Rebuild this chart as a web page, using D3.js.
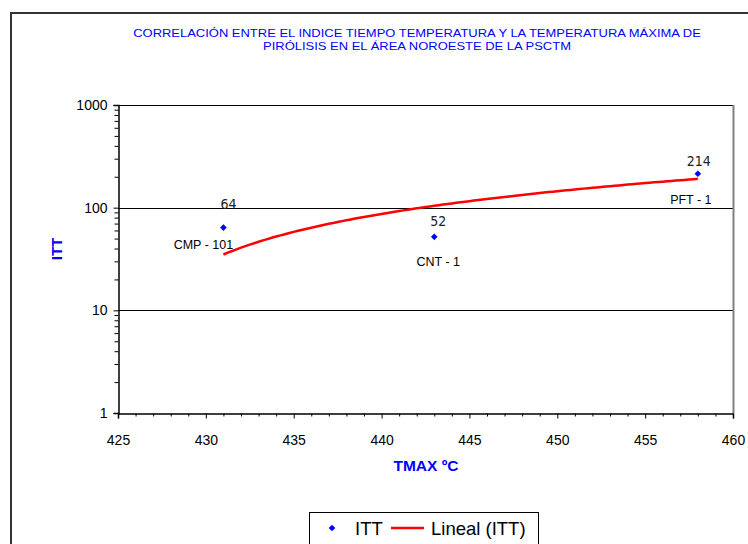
<!DOCTYPE html>
<html>
<head>
<meta charset="utf-8">
<script src="https://cdn.jsdelivr.net/npm/d3@7"></script>
<style>
  body { margin: 0; background: #fff; }
  svg { display: block; font-family: Arial, "Liberation Sans", sans-serif; }
</style>
</head>
<body>
<svg width="748" height="544"></svg>
<script>
const wells = ["CMP - 101", "CNT - 1", "PFT - 1"];
const tmax = [431, 443, 458];
const itt = [64, 52, 214];
const xTicks = [425, 430, 435, 440, 445, 450, 455, 460];
const yTicks = [1, 10, 100, 1000];

const svg = d3.select('svg');
const blue = "#0000ff";
const plotLeft = 118, plotRight = 733, plotTop = 105, plotBottom = 413;

const xScale = d3.scaleLinear().domain([425, 460]).range([plotLeft, plotRight]);
const yScale = d3.scaleLog().domain([1, 1000]).range([plotBottom, plotTop]);

// chart frame (cut by the window on right and bottom)
svg.append('path')
  .attr('d', 'M11,560 L11,13 L760,13')
  .attr('fill', 'none')
  .attr('stroke', '#333')
  .attr('stroke-width', 2);

// title (the original text is a little stretched sideways)
const title = svg.append('text')
  .attr('transform', 'translate(417,0) scale(1.18,1)')
  .attr('text-anchor', 'middle')
  .attr('fill', blue)
  .style('font-size', '11px');
title.append('tspan').attr('x', 0).attr('y', 37)
  .text("CORRELACIÓN ENTRE EL INDICE TIEMPO TEMPERATURA Y LA TEMPERATURA MÁXIMA DE");
title.append('tspan').attr('x', 0).attr('y', 50)
  .text("PIRÓLISIS EN EL ÁREA NOROESTE DE LA PSCTM");

// gridlines
svg.append('g')
  .selectAll('line')
  .data(yTicks.slice(1))
  .enter()
  .append('line')
  .attr('x1', plotLeft).attr('x2', plotRight)
  .attr('y1', d => Math.round(yScale(d)) + 0.5)
  .attr('y2', d => Math.round(yScale(d)) + 0.5)
  .attr('stroke', '#000')
  .attr('stroke-width', 1);

// plot right border
svg.append('line')
  .attr('x1', plotRight + 0.5).attr('x2', plotRight + 0.5)
  .attr('y1', plotTop).attr('y2', plotBottom)
  .attr('stroke', '#808080')
  .attr('stroke-width', 2);

// y axis with log minor ticks
const minorY = [];
for (let e = 0; e < 3; e++) for (let k = 2; k <= 9; k++) minorY.push(k * Math.pow(10, e));

const yAxis = d3.axisLeft(yScale).tickValues(yTicks).tickFormat(d3.format("d")).tickSize(5).tickPadding(6);
const yAxisMinor = d3.axisLeft(yScale).tickValues(minorY).tickFormat("").tickSize(4);

svg.append('g')
  .attr('transform', 'translate(' + (plotLeft + 0.5) + ',0)')
  .call(yAxisMinor)
  .call(g => g.select('.domain').remove());

svg.append('g')
  .attr('id', 'y-axis')
  .attr('transform', 'translate(' + (plotLeft + 0.5) + ',0)')
  .call(yAxis)
  .call(g => g.select('.domain').attr('stroke-width', 1.5))
  .selectAll('text')
  .style('font-size', '14px')
  .attr('fill', '#000');

// x axis
const minorX = d3.range(425, 461, 1).filter(d => d % 5 !== 0);
const xAxis = d3.axisBottom(xScale).tickValues(xTicks).tickFormat(d3.format("d")).tickSize(5).tickPadding(17);
const xAxisMinor = d3.axisBottom(xScale).tickValues(minorX).tickFormat("").tickSize(3);

svg.append('g')
  .attr('transform', 'translate(0,' + (plotBottom + 0.5) + ')')
  .call(xAxisMinor)
  .call(g => g.select('.domain').remove());

svg.append('g')
  .attr('id', 'x-axis')
  .attr('transform', 'translate(0,' + (plotBottom + 0.5) + ')')
  .call(xAxis)
  .call(g => g.select('.domain').attr('stroke-width', 1.5))
  .selectAll('text')
  .style('font-size', '14px')
  .attr('fill', '#000');

// axis titles
svg.append('text')
  .attr('x', 426).attr('y', 471)
  .attr('text-anchor', 'middle')
  .attr('fill', blue)
  .style('font-size', '15.5px')
  .style('font-weight', 'bold')
  .text("TMAX ºC");

svg.append('text')
  .attr('transform', 'translate(62,249) rotate(-90)')
  .attr('text-anchor', 'middle')
  .attr('fill', blue)
  .style('font-size', '15px')
  .style('font-weight', 'bold')
  .text("ITT");

// linear trendline (least squares on ITT vs TMAX)
const mx = d3.mean(tmax), my = d3.mean(itt);
const slope = d3.sum(tmax, (x, i) => (x - mx) * (itt[i] - my)) / d3.sum(tmax, x => (x - mx) * (x - mx));
const intercept = my - slope * mx;
const trendX = d3.range(d3.min(tmax), d3.max(tmax) + 0.001, 0.25);

svg.append('path')
  .datum(trendX)
  .attr('fill', 'none')
  .attr('stroke', '#ff0000')
  .attr('stroke-width', 2.5)
  .attr('d', d3.line()
    .x(d => xScale(d))
    .y(d => yScale(intercept + slope * d)));

// points
const points = tmax.map((x, i) => ({ x: x, y: itt[i], name: wells[i] }));

svg.selectAll('.dot')
  .data(points)
  .enter()
  .append('path')
  .attr('class', 'dot')
  .attr('d', d3.symbol(d3.symbolDiamond2, 28))
  .attr('transform', d => 'translate(' + xScale(d.x) + ',' + yScale(d.y) + ')')
  .attr('fill', blue);

// value labels
const valueOffset = [[5, -19], [4, -11], [1, -8]];
svg.selectAll('.value')
  .data(points)
  .enter()
  .append('text')
  .attr('class', 'value')
  .attr('x', (d, i) => xScale(d.x) + valueOffset[i][0])
  .attr('y', (d, i) => yScale(d.y) + valueOffset[i][1])
  .attr('text-anchor', 'middle')
  .style('font-family', '"Liberation Sans Narrow", "DejaVu Sans Condensed", Arial, sans-serif')
  .style('font-size', '14px')
  .attr('fill', '#222')
  .text(d => d.y);

// well name labels
const nameOffset = [[-20, 21], [4, 29], [-7, 30]];
svg.selectAll('.name')
  .data(points)
  .enter()
  .append('text')
  .attr('class', 'name')
  .attr('x', (d, i) => xScale(d.x) + nameOffset[i][0])
  .attr('y', (d, i) => yScale(d.y) + nameOffset[i][1])
  .attr('text-anchor', 'middle')
  .style('font-size', '12.5px')
  .attr('fill', '#000')
  .text(d => d.name);

// legend
const legend = svg.append('g').attr('id', 'legend');
legend.append('rect')
  .attr('x', 309.5).attr('y', 512.5)
  .attr('width', 229).attr('height', 40)
  .attr('fill', '#fff')
  .attr('stroke', '#000');
legend.append('path')
  .attr('d', d3.symbol(d3.symbolDiamond2, 28))
  .attr('transform', 'translate(332,528)')
  .attr('fill', blue);
legend.append('text')
  .attr('x', 355).attr('y', 534.5)
  .style('font-size', '18.5px')
  .text("ITT");
legend.append('line')
  .attr('x1', 391).attr('x2', 424)
  .attr('y1', 528).attr('y2', 528)
  .attr('stroke', '#ff0000')
  .attr('stroke-width', 2.5);
legend.append('text')
  .attr('x', 431).attr('y', 534.5)
  .style('font-size', '18.5px')
  .text("Lineal (ITT)");
</script>
</body>
</html>
